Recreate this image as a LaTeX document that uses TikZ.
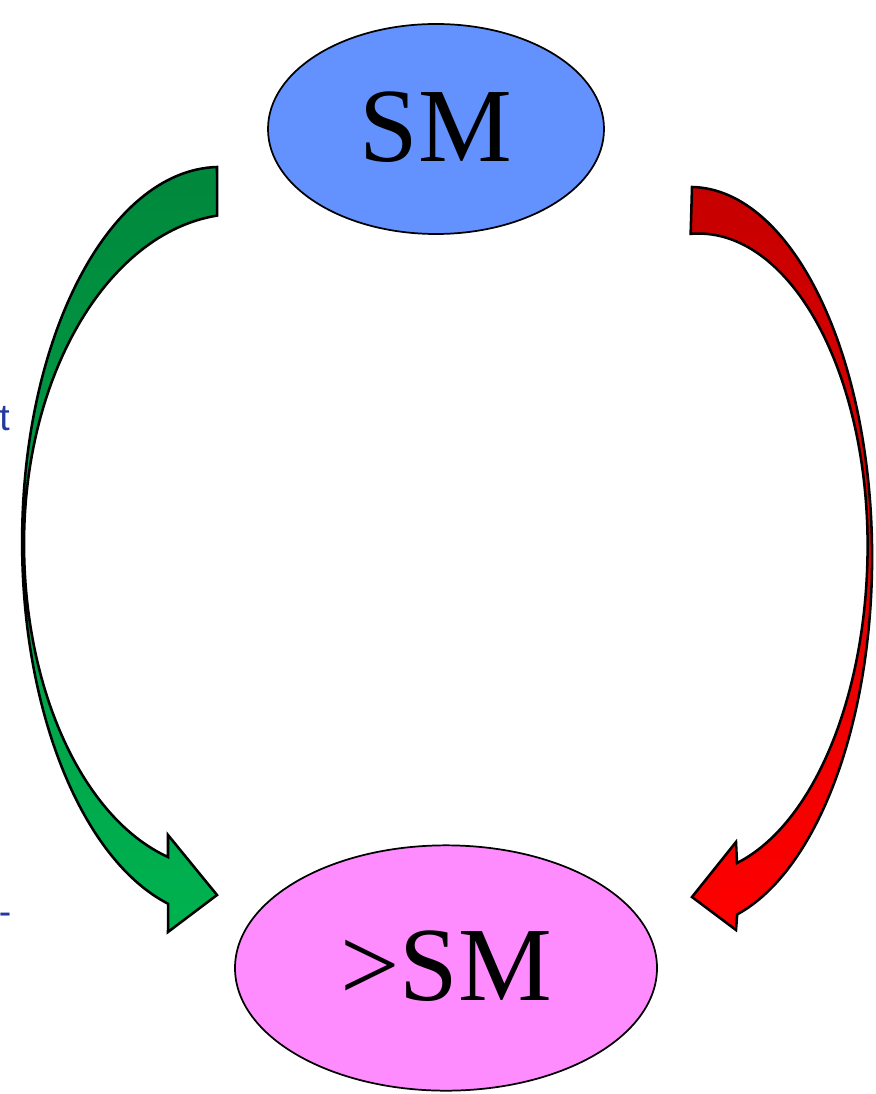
\documentclass[tikz,border=0pt]{standalone}
\usepackage{fontspec}
\setmainfont{Liberation Serif}
\newfontfamily\labelfont{Liberation Sans}
\usetikzlibrary{shapes.geometric}
\definecolor{smblue}{RGB}{99,146,255}
\definecolor{smpink}{RGB}{255,140,255}
\definecolor{gtop}{RGB}{0,136,60}
\definecolor{gbot}{RGB}{0,178,80}
\definecolor{rtop}{RGB}{198,0,0}
\definecolor{rbot}{RGB}{255,0,0}
\definecolor{labblue}{RGB}{36,56,160}
\tikzset{
  bubble/.style={ellipse, draw=black, line width=1.3pt, inner sep=0pt,
    font=\fontsize{79}{86}\selectfont},
  bigarrow/.style={draw=black, line width=1.9pt, line join=miter},
  cutlabel/.style={text=labblue, font=\labelfont\fontsize{28}{32}\selectfont, inner sep=0pt}
}
\begin{document}
\begin{tikzpicture}[x=0.75pt,y=-0.75pt]
\useasboundingbox (0,0) rectangle (875,1094);
% nodes
\node[bubble, fill=smblue, minimum width=252pt, minimum height=157.5pt] (sm) at (436,129) {\raisebox{3pt}{SM}};
\node[bubble, fill=smpink, minimum width=316.5pt, minimum height=184pt] (bsm) at (446,968) {\raisebox{3pt}{>SM}};
% green curved arrow (SM -> >SM, left side)
\coordinate (gtail) at (217,167);
\coordinate (gtip) at (217,895);
\path[bigarrow, top color=gtop, bottom color=gbot]
  (gtail) arc[start angle=-90.9, end angle=-254.8, x radius=198, y radius=375]
  -- (168,932) -- (gtip) -- (168,835) -- (168,857)
  arc[start angle=105.4, end angle=180, x radius=196, y radius=325]
  arc[start angle=-180, end angle=-96.1, x radius=216, y radius=330]
  -- cycle;
% red curved arrow (SM -> >SM, right side)
\coordinate (rtail) at (692,187);
\coordinate (rtip) at (692,897);
\path[bigarrow, top color=rtop, bottom color=rbot]
  (rtail) arc[start angle=-89.4, end angle=75, x radius=182, y radius=370]
  -- (736,930) -- (rtip) -- (736,842) -- (737,863)
  arc[start angle=74.8, end angle=0, x radius=177, y radius=329]
  arc[start angle=0, end angle=-92.7, x radius=169, y radius=312]
  -- cycle;
% text fragments at the left margin
\node[cutlabel, anchor=base west] (tfrag) at (-1,430) {t};
\node[cutlabel, anchor=base west] (dfrag) at (-1.5,924) {-};
\end{tikzpicture}
\end{document}
